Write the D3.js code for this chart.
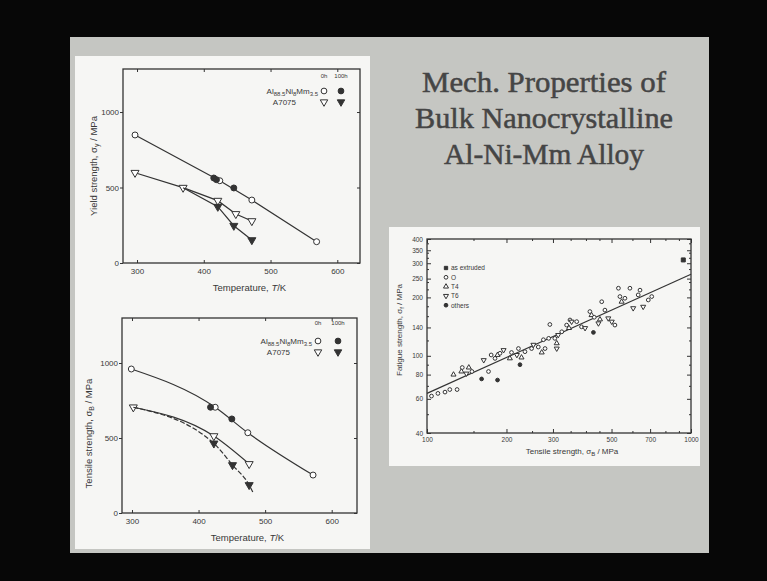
<!DOCTYPE html>
<html>
<head>
<meta charset="utf-8">
<script src="https://cdn.jsdelivr.net/npm/d3@7"></script>
<style>
  html, body { margin: 0; padding: 0; background: #070707; }
  svg { display: block; }
  text { font-family: "Liberation Sans", Arial, sans-serif; fill: #383838; }
  .title { font-family: "Liberation Serif", "Times New Roman", serif; fill: #454545; stroke: #454545; stroke-width: 0.5; }
</style>
</head>
<body>
<svg id="slide" width="767" height="581"></svg>
<script>
// ---- yield strength vs temperature (top left) ----
const yAlloyT = [297, 424, 472, 569]
const yAlloyV = [848, 545, 417, 141]
const yAlloy100T = [415, 419, 445]
const yAlloy100V = [563, 552, 497]
const y7075T = [297, 369, 421, 448, 472]
const y7075V = [598, 499, 413, 325, 278]
const y7075_100T = [369, 421, 445, 472]
const y7075_100V = [499, 373, 247, 152]

// ---- tensile strength vs temperature (bottom left) ----
const tAlloyT = [299, 425, 474, 572]
const tAlloyV = [960, 705, 535, 253]
const tAlloy100T = [418, 450]
const tAlloy100V = [705, 627]
const t7075T = [302, 423, 476]
const t7075V = [705, 513, 327]
const t7075_100T = [302, 423, 451, 476, 482]
const t7075_100V = [705, 464, 320, 187, 135]

const tempTicks = [300, 400, 500, 600]
const strengthTicks = [0, 500, 1000]

// ---- fatigue vs tensile strength (right) ----
const fatB = [104,110,117,122,130,126,135,136,141,148,144,161,185,171,164,175,181,185,189,195,
  206,209,219,222,225,228,235,249,253,264,272,276,280,289,292,305,314,310,310,324,
  338,345,348,353,369,385,397,414,420,427,430,446,452,459,472,486,501,515,531,538,
  546,562,587,604,631,641,659,689,710,935]
const fatF = [62,64,65,67,67,80,83,87,81,83,87,76,75,83,95,101,97,101,103,107,
  97,104,101,109,90,98,105,109,114,111,104,121,109,123,145,123,128,116,109,133,
  144,139,153,150,150,141,139,169,162,132,158,147,154,190,172,156,150,144,223,202,
  190,198,223,176,206,218,179,194,202,312]
const fatType = ["O","O","O","O","O","T4","T4","O","T6","O","T4","oth","oth","O","T6",
  "O","O","T4","O","T6","T4","O","T6","O","oth","T4","O","O","T6","O",
  "T4","O","O","O","O","O","T6","T4","T6","O","O","T4","O","T6","O",
  "O","T6","O","T4","oth","O","T6","T4","O","O","T6","T6","O","O","O",
  "T4","O","O","T6","O","O","T6","O","O","ext"]
const fitB = [100, 1000]
const fitF = [64, 263]
const legendKeys = ["ext", "O", "T4", "T6", "oth"]
const legendNames = ["as extruded", "O", "T4", "T6", "others"]
const fatXMajor = [100, 200, 300, 500, 700, 1000]
const fatXMinor = [150, 250, 350, 400, 450, 600, 800, 900]
const fatYMajor = [40, 60, 80, 100, 140, 200, 250, 300, 350, 400]
const fatYMinor = [50, 70, 90, 120, 160, 180, 220, 240, 280, 320, 340, 380]

const titleLines = ["Mech. Properties of", "Bulk Nanocrystalline", "Al-Ni-Mm Alloy"]
const titleWidths = [244, 258, 200]

const ink = "#333"
const svg = d3.select("#slide")

svg.append("rect").attr("width", 767).attr("height", 581).attr("fill", "#070707")
svg.append("rect").attr("x", 70).attr("y", 37).attr("width", 639).attr("height", 516).attr("fill", "#c5c6c2")
svg.append("rect").attr("x", 75).attr("y", 56).attr("width", 295).attr("height", 493).attr("fill", "#f6f6f4")
svg.append("rect").attr("x", 389).attr("y", 227).attr("width", 311).attr("height", 239).attr("fill", "#f6f6f4")

// title
svg.selectAll("text.title").data(titleLines).join("text")
  .attr("class", "title")
  .attr("x", 544).attr("y", (d, i) => 92 + i * 36)
  .attr("text-anchor", "middle")
  .attr("font-size", 29)
  .attr("textLength", (d, i) => titleWidths[i])
  .attr("lengthAdjust", "spacingAndGlyphs")
  .text(d => d)

const sym = (type, size) => {
  if (type === "T4" || type === "T6") return d3.symbol(d3.symbolTriangle, size)()
  if (type === "ext") return d3.symbol(d3.symbolSquare, size)()
  return d3.symbol(d3.symbolCircle, size)()
}

const marker = (g, type, filled, x, y, size) => {
  g.append("path")
    .attr("d", sym(type, size))
    .attr("transform", `translate(${x},${y})` + (type === "T6" ? " rotate(180)" : ""))
    .attr("fill", filled ? ink : "#fff")
    .attr("stroke", ink)
    .attr("stroke-width", 1)
}

const styleAxis = (a, fs) => {
  a.select(".domain").remove()
  a.selectAll("line").attr("stroke", ink)
  a.selectAll("text").attr("font-size", fs).attr("fill", "#3a3a3a")
}

const alloyLabel = (g, x, y) => {
  const t = g.append("text").attr("x", x).attr("y", y).attr("text-anchor", "end").attr("font-size", 8)
  const parts = [["Al", 0], ["88.5", 1], ["Ni", 0], ["8", 1], ["Mm", 0], ["3.5", 1]]
  parts.forEach((p, i) => {
    t.append("tspan").attr("font-size", p[1] ? 6 : 8)
      .attr("dy", i === 0 ? 0 : (p[1] ? 2 : -2)).text(p[0])
  })
}

const tempChart = (box, xDom, yDom, series, opts) => {
  const g = svg.append("g")
  const x = d3.scaleLinear().domain(xDom).range([box.x0, box.x1])
  const y = d3.scaleLinear().domain(yDom).range([box.y1, box.y0])

  styleAxis(g.append("g").attr("transform", `translate(${box.x0},0)`)
    .call(d3.axisLeft(y).tickValues(strengthTicks).tickSize(3).tickPadding(1).tickFormat(d3.format("d"))), 8)
  styleAxis(g.append("g").attr("transform", `translate(0,${box.y1})`)
    .call(d3.axisBottom(x).tickValues(tempTicks).tickSizeInner(-3).tickSizeOuter(0).tickPadding(5)), 8)
  styleAxis(g.append("g").attr("transform", `translate(0,${box.y0})`)
    .call(d3.axisTop(x).tickValues(tempTicks).tickSizeInner(-3).tickSizeOuter(0).tickFormat("")), 8)
  styleAxis(g.append("g").attr("transform", `translate(${box.x1},0)`)
    .call(d3.axisRight(y).tickValues(strengthTicks).tickSizeInner(-3).tickSizeOuter(0).tickFormat("")), 8)

  g.append("rect").attr("x", box.x0).attr("y", box.y0)
    .attr("width", box.x1 - box.x0).attr("height", box.y1 - box.y0)
    .attr("fill", "none").attr("stroke", ink).attr("stroke-width", 1.3)

  series.forEach(s => {
    const pts = s.T.map((t, i) => [x(t), y(s.V[i])])
    if (s.line) {
      g.append("path")
        .attr("d", d3.line().curve(opts.curve)(pts))
        .attr("fill", "none").attr("stroke", ink).attr("stroke-width", 1.2)
        .attr("stroke-dasharray", s.dash || null)
    }
    pts.forEach((p, i) => {
      if (i >= s.from && i < s.to) marker(g, s.type, s.filled, p[0], p[1], 28)
    })
  })

  // legend
  const L = opts.legend
  g.append("text").attr("x", L.c1).attr("y", L.y0).attr("font-size", 6).attr("text-anchor", "middle").text("0h")
  g.append("text").attr("x", L.c2).attr("y", L.y0).attr("font-size", 6).attr("text-anchor", "middle").text("100h")
  alloyLabel(g, L.c1 - 6, L.y1 + 3)
  marker(g, "O", false, L.c1, L.y1, 26)
  marker(g, "O", true, L.c2, L.y1, 26)
  g.append("text").attr("x", L.c1 - 28).attr("y", L.y2 + 3).attr("font-size", 8).attr("text-anchor", "end").text("A7075")
  marker(g, "T6", false, L.c1, L.y2, 24)
  marker(g, "T6", true, L.c2, L.y2, 24)

  const xl = g.append("text").attr("x", (box.x0 + box.x1) / 2 + 8).attr("y", box.y1 + 28)
    .attr("font-size", 9.5).attr("text-anchor", "middle")
  xl.append("tspan").text("Temperature, ")
  xl.append("tspan").attr("font-style", "italic").text("T")
  xl.append("tspan").text("/K")

  const yl = g.append("text")
    .attr("transform", `translate(${opts.yTitleX},${(box.y0 + box.y1) / 2 + opts.yShift}) rotate(-90)`)
    .attr("text-anchor", "middle").attr("font-size", 9.5)
  yl.append("tspan").text(opts.yTitle + ", σ")
  yl.append("tspan").attr("font-size", 7).attr("dy", 2).text(opts.sub)
  yl.append("tspan").attr("dy", -2).text(" / MPa")
}

tempChart({x0: 123, x1: 360, y0: 69, y1: 263}, [279, 634], [0, 1285], [
  {T: yAlloyT, V: yAlloyV, type: "O", filled: false, line: true, from: 0, to: 9},
  {T: yAlloy100T, V: yAlloy100V, type: "O", filled: true, line: false, from: 0, to: 9},
  {T: y7075T, V: y7075V, type: "T6", filled: false, line: true, from: 0, to: 9},
  {T: y7075_100T, V: y7075_100V, type: "T6", filled: true, line: true, from: 1, to: 9}
], {curve: d3.curveLinear, legend: {c1: 324, c2: 341, y0: 78, y1: 91, y2: 102},
    yTitle: "Yield strength", sub: "y", yTitleX: 97, yShift: 0})

tempChart({x0: 122, x1: 357, y0: 318, y1: 513}, [285, 638], [0, 1300], [
  {T: tAlloyT, V: tAlloyV, type: "O", filled: false, line: true, from: 0, to: 9},
  {T: tAlloy100T, V: tAlloy100V, type: "O", filled: true, line: false, from: 0, to: 9},
  {T: t7075T, V: t7075V, type: "T6", filled: false, line: true, from: 0, to: 9},
  {T: t7075_100T, V: t7075_100V, type: "T6", filled: true, line: true, dash: "5,2", from: 1, to: 4}
], {curve: d3.curveMonotoneX, legend: {c1: 318, c2: 338, y0: 325, y1: 341, y2: 352},
    yTitle: "Tensile strength", sub: "B", yTitleX: 92, yShift: 18})

// ---- fatigue chart ----
const fg = svg.append("g")
const fb = {x0: 427, x1: 691, y0: 239, y1: 433}
const xF = d3.scaleLog().domain([100, 1000]).range([fb.x0, fb.x1])
const yF = d3.scaleLog().domain([40, 400]).range([fb.y1, fb.y0])

const fAxis = (axis, vals, inner, fmt, tr, fs) => {
  styleAxis(fg.append("g").attr("transform", tr)
    .call(axis.tickValues(vals).tickSizeInner(inner).tickSizeOuter(0).tickPadding(4)
      .tickFormat(fmt ? d3.format("d") : "")), fs)
}
fAxis(d3.axisLeft(yF), fatYMajor, -4, true, `translate(${fb.x0},0)`, 6.5)
fAxis(d3.axisLeft(yF), fatYMinor, -2, false, `translate(${fb.x0},0)`, 6.5)
fAxis(d3.axisRight(yF), fatYMajor, -4, false, `translate(${fb.x1},0)`, 6.5)
fAxis(d3.axisRight(yF), fatYMinor, -2, false, `translate(${fb.x1},0)`, 6.5)
fAxis(d3.axisBottom(xF), fatXMajor, -4, true, `translate(0,${fb.y1})`, 6.5)
fAxis(d3.axisBottom(xF), fatXMinor, -2, false, `translate(0,${fb.y1})`, 6.5)
fAxis(d3.axisTop(xF), fatXMajor, -4, false, `translate(0,${fb.y0})`, 6.5)
fAxis(d3.axisTop(xF), fatXMinor, -2, false, `translate(0,${fb.y0})`, 6.5)

fg.append("rect").attr("x", fb.x0).attr("y", fb.y0)
  .attr("width", fb.x1 - fb.x0).attr("height", fb.y1 - fb.y0)
  .attr("fill", "none").attr("stroke", ink).attr("stroke-width", 1.3)

fg.append("path")
  .attr("d", d3.line()(fitB.map((b, i) => [xF(b), yF(fitF[i])])))
  .attr("stroke", ink).attr("stroke-width", 1.2).attr("fill", "none")

fatB.forEach((b, i) => {
  const t = fatType[i]
  marker(fg, t, t === "oth" || t === "ext", xF(b), yF(fatF[i]), t === "ext" ? 16 : 11)
})

legendKeys.forEach((k, i) => {
  const yy = 268 + i * 9.3
  marker(fg, k, k === "oth" || k === "ext", 446, yy, 11)
  fg.append("text").attr("x", 451).attr("y", yy + 2.3).attr("font-size", 6.5).text(legendNames[i])
})

fg.append("text").attr("x", 572).attr("y", 454).attr("font-size", 8).attr("text-anchor", "middle")
  .call(t => {
    t.append("tspan").text("Tensile  strength, σ")
    t.append("tspan").attr("font-size", 6).attr("dy", 2).text("B")
    t.append("tspan").attr("dy", -2).text(" / MPa")
  })
fg.append("text").attr("transform", "translate(402,330) rotate(-90)")
  .attr("font-size", 8).attr("text-anchor", "middle")
  .call(t => {
    t.append("tspan").text("Fatigue strength, σ")
    t.append("tspan").attr("font-size", 6).attr("dy", 2).text("f")
    t.append("tspan").attr("dy", -2).text(" / MPa")
  })
</script>
</body>
</html>
